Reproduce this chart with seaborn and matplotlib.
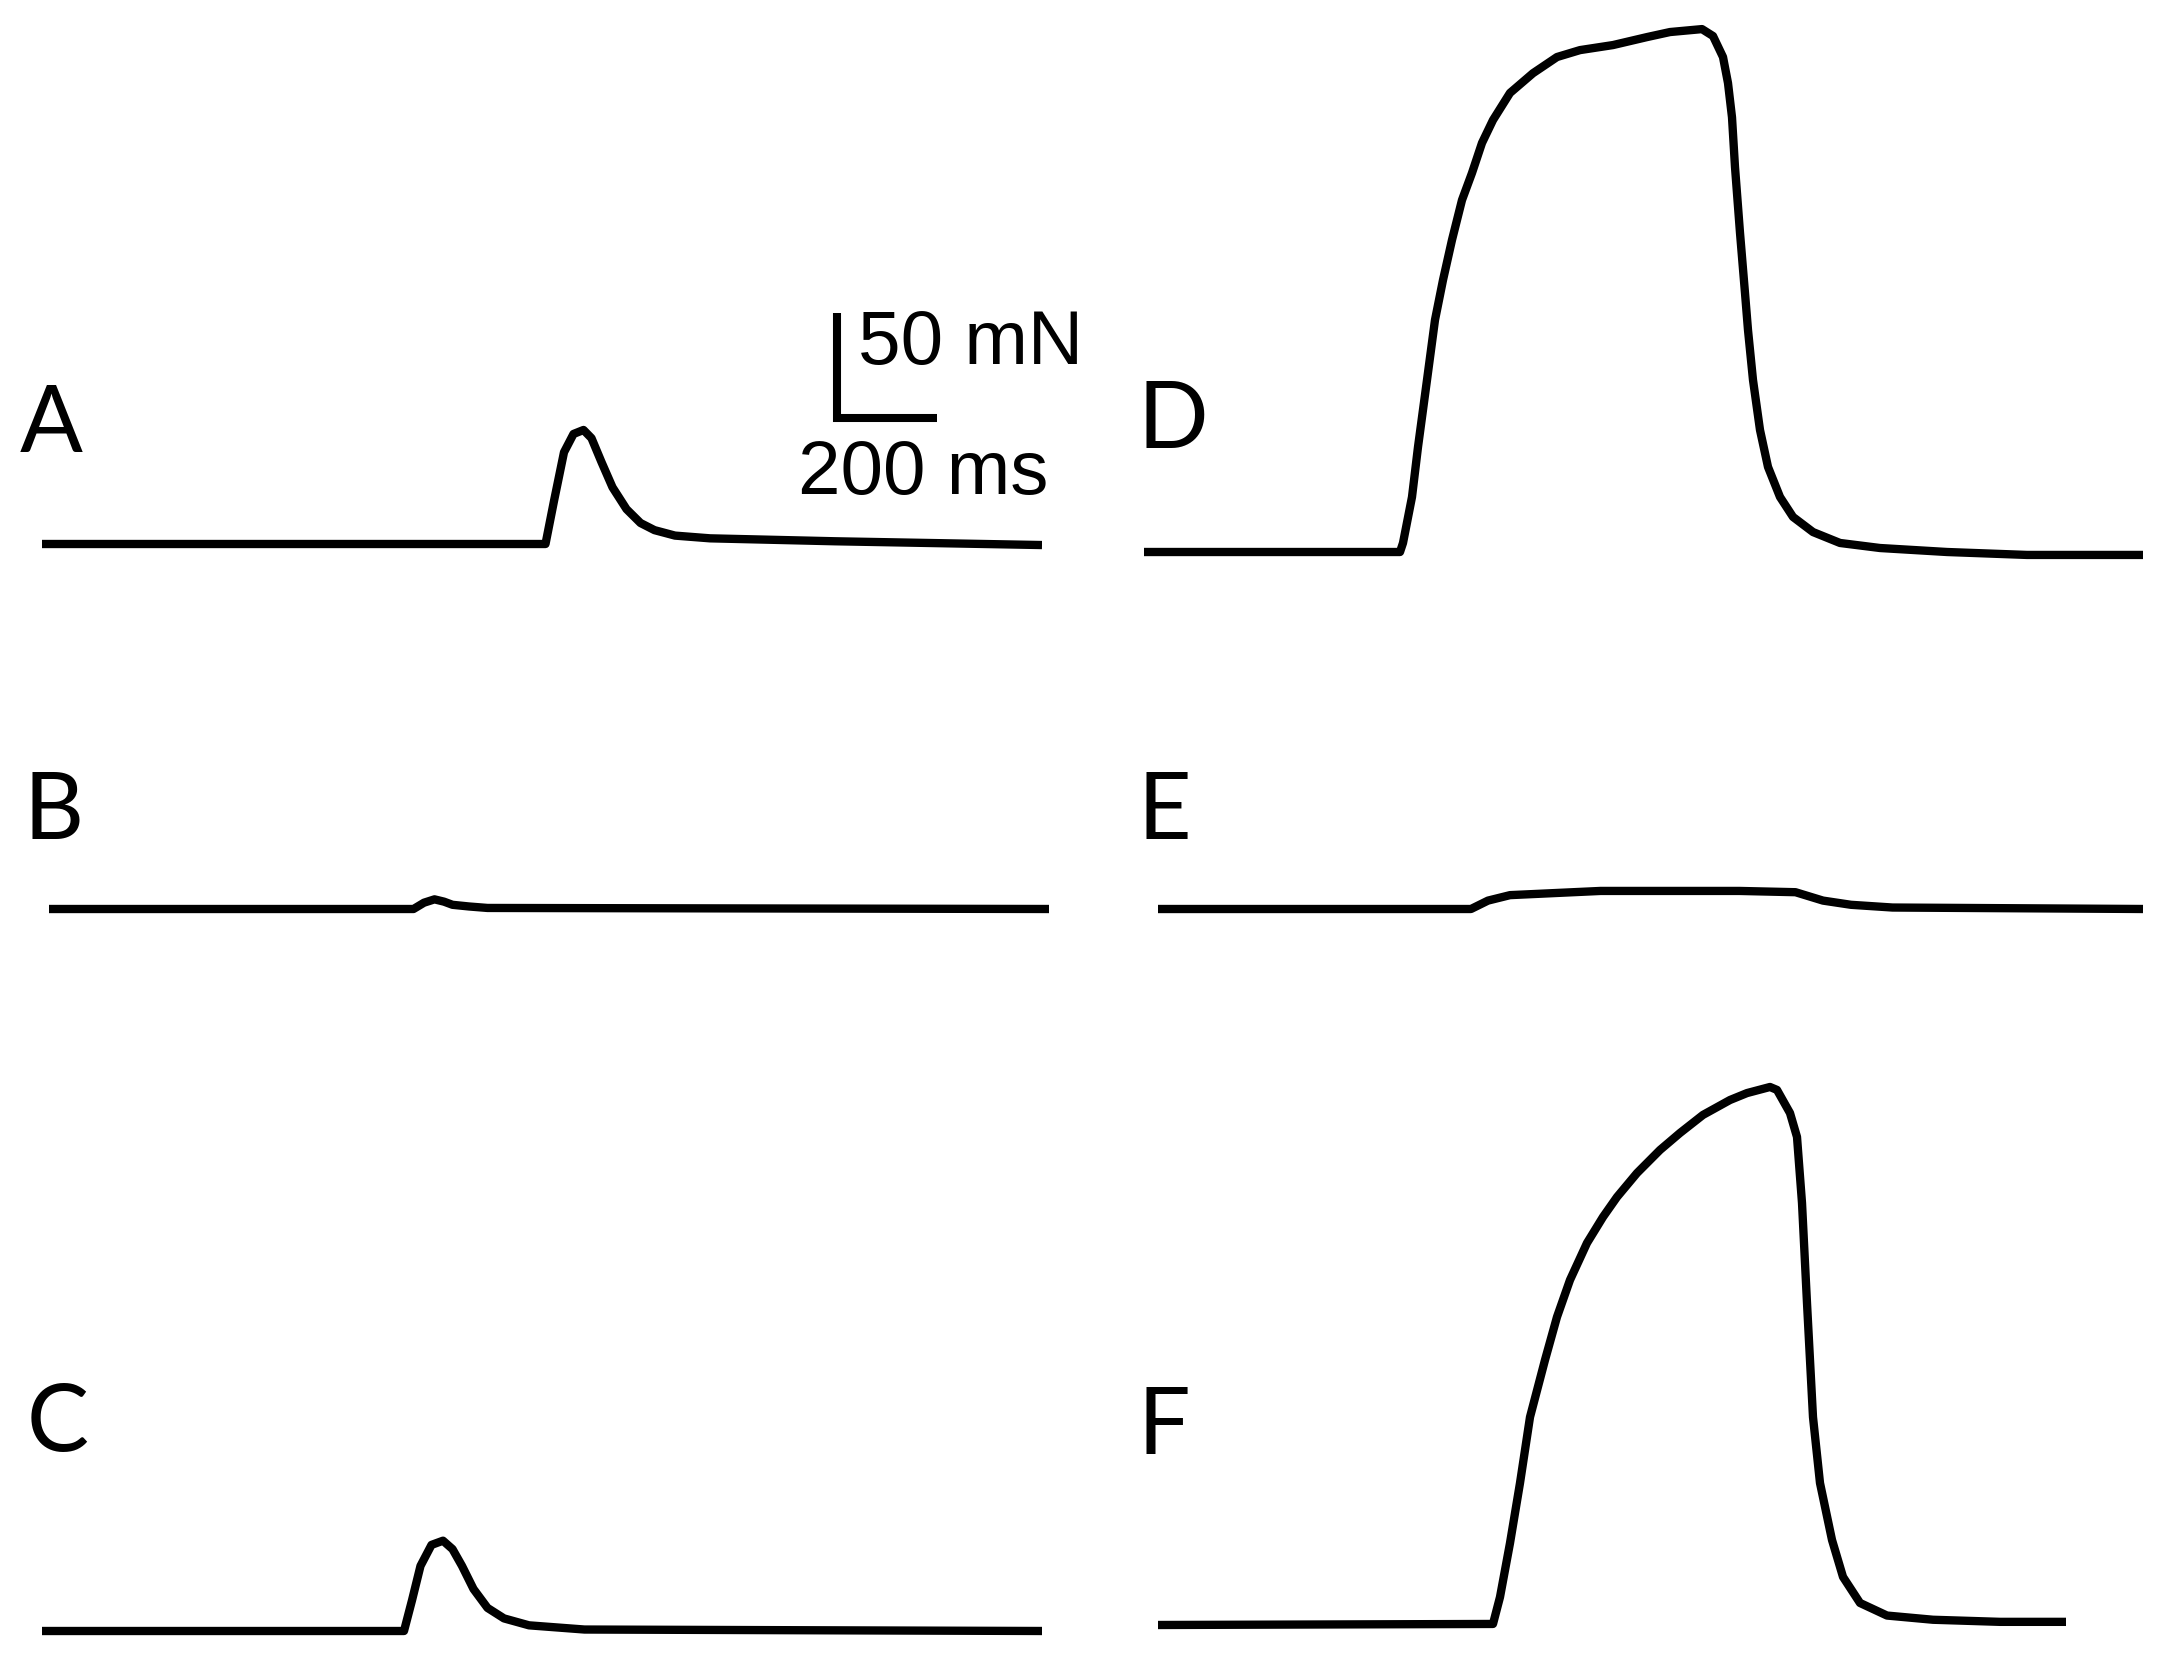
import numpy as np
import pandas as pd
import matplotlib
matplotlib.use('Agg')
import matplotlib.pyplot as plt
import seaborn as sns

# Force traces (time in ms, force in mN)
A_t = [0, 1007, 1024, 1044, 1063, 1083, 1099, 1119, 1141, 1169, 1197, 1225, 1266, 1336, 1586, 2000]
A_f = [0, 0, 20.5, 43.7, 52.4, 54.3, 50.4, 39, 27, 16.6, 10, 6.6, 4, 2.7, 1.3, -0.5]

B_t = [0, 729, 750, 771, 790, 807, 840, 877, 2000]
B_f = [0, 0, 3, 4.6, 3.5, 2, 1.2, 0.5, 0]

C_t = [0, 724, 740, 757, 779, 802, 821, 840, 863, 891, 924, 974, 1085, 2000]
C_f = [0, 0, 14.6, 31, 41, 43, 39, 31, 20, 11, 6, 2.7, 0.7, 0]

D_t = [0, 512, 518, 536, 548, 566, 582, 598, 616, 636, 656, 676, 698, 732, 778, 826,
       872, 938, 1006, 1052, 1116, 1138, 1158, 1168, 1176, 1182, 1192, 1202, 1208,
       1218, 1232, 1248, 1272, 1298, 1338, 1392, 1472, 1606, 1766, 1998]
D_f = [0, 0, 4.3, 26.2, 50, 81.9, 110.5, 129.5, 148.6, 167.6, 180.5, 194.8, 205.7,
       218.6, 228, 235.7, 239, 241.4, 245.2, 247.6, 249, 245.7, 235.7, 223.3, 207,
       183.3, 152, 123.3, 105.7, 81.9, 58.1, 40.5, 26.2, 16.7, 9.5, 4.3, 1.9, 0, -1.4, -1.4]

E_t = [0, 626, 660, 704, 885, 1163, 1275, 1330, 1386, 1469, 1970]
E_f = [0, 0, 4, 6.6, 8.6, 8.6, 8, 4, 2, 0.7, 0]

F_t = [0, 670, 684, 704, 724, 744, 774, 798, 824, 858, 890, 918, 958, 1004, 1044,
       1090, 1144, 1178, 1224, 1238, 1264, 1278, 1288, 1298, 1310, 1324, 1348, 1370,
       1404, 1458, 1550, 1684, 1816]
F_f = [0, 0.5, 13.3, 39, 67.6, 99, 126.2, 146.7, 164.3, 181.9, 194.3, 203.8, 215.2,
       226.2, 234.3, 242.9, 250, 253.3, 256.2, 254.8, 243.8, 232.4, 201, 153.3, 99,
       67.6, 40.5, 22.9, 10.5, 4.5, 2.5, 1.5, 1.5]

labels = ['A', 'B', 'C', 'D', 'E', 'F']
times = [A_t, B_t, C_t, D_t, E_t, F_t]
forces = [A_f, B_f, C_f, D_f, E_f, F_f]

# scale bar values
bar_force = 50   # mN
bar_time = 200   # ms

sns.set_style('white')
plt.rcParams['text.color'] = 'black'

W, H = 2182, 1659
fig = plt.figure(figsize=(W / 100, H / 100), dpi=100)

PX_PER_MS = 0.5
PX_PER_MN = 2.1
YMIN, YMAX = -10, 290

# panel layout in pixels: trace start x, baseline y
panel_pos = [(42, 544), (49, 909), (42, 1631), (1144, 552), (1158, 909), (1158, 1625)]
label_pos = [(20, 452), (24, 839), (27, 1451), (1137, 448), (1137, 839), (1137, 1454)]

axes = []
for (x0, base), lab, t, f, (lx, ly) in zip(panel_pos, labels, times, forces, label_pos):
    w = 2000 * PX_PER_MS
    h = (YMAX - YMIN) * PX_PER_MN
    bottom = base - YMIN * PX_PER_MN  # bottom edge in top-down pixels
    ax = fig.add_axes([x0 / W, (H - bottom) / H, w / W, h / H])
    ax.patch.set_alpha(0)
    df = pd.DataFrame({'time': t, 'force': f})
    sns.lineplot(data=df, x='time', y='force', ax=ax, color='black',
                 sort=False, estimator=None)
    for ln in ax.lines:
        ln.set_linewidth(6)
        ln.set_solid_joinstyle('round')
        ln.set_solid_capstyle('butt')
    ax.set_xlim(0, 2000)
    ax.set_ylim(YMIN, YMAX)
    ax.axis('off')
    fig.text(lx / W, (H - ly) / H, lab, fontsize=67, family='Lato',
             color='black', ha='left', va='baseline')
    axes.append(ax)

# scale bar in panel A coordinates
ax = axes[0]
sx, sy = 1589, 60
ax.plot([sx, sx, sx + bar_time], [sy + bar_force, sy, sy], color='black', lw=5.8,
        solid_joinstyle='miter', solid_capstyle='butt', clip_on=False)
ax.text(sx + 42, sy + 35, f'{bar_force} mN', fontsize=55, family='Liberation Sans',
        color='black', ha='left', va='center')
ax.text(sx - 78, sy - 27, f'{bar_time} ms', fontsize=55, family='Liberation Sans',
        color='black', ha='left', va='center')

fig.savefig('out.png', dpi=100)
